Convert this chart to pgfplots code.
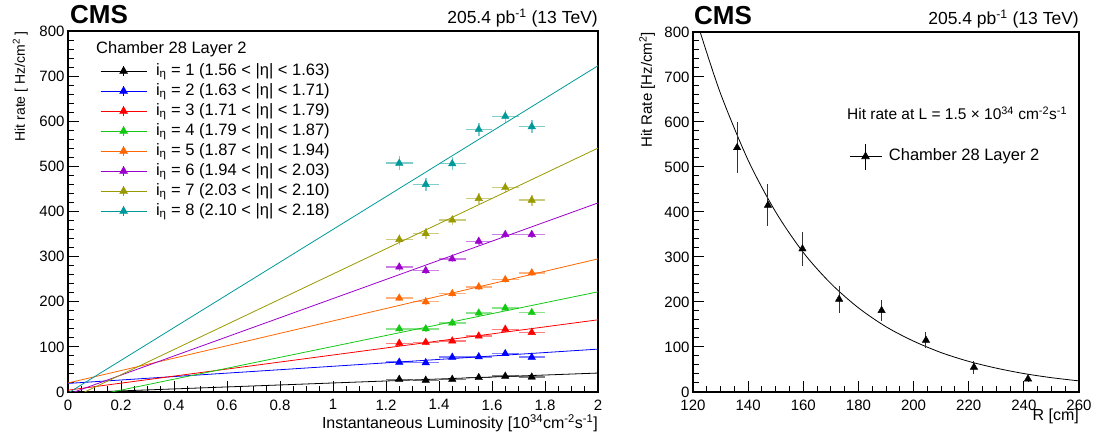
\documentclass[border=0pt]{standalone}
\usepackage{fontspec}
\setmainfont{Liberation Sans}
\usepackage{pgfplots}
\usepackage{pgfplotstable}
\pgfplotsset{compat=1.18}

\definecolor{cblue}{RGB}{0,0,255}
\definecolor{cred}{RGB}{255,0,0}
\definecolor{cgreen}{RGB}{20,200,20}
\definecolor{corange}{RGB}{255,102,0}
\definecolor{cpurple}{RGB}{155,0,205}
\definecolor{colive}{RGB}{153,153,0}
\definecolor{cteal}{RGB}{0,153,153}

\newcommand{\fs}[1]{\fontsize{#1}{#1}\selectfont}

% hit rate vs luminosity, one column per i_eta
\pgfplotstableread{
x    ex    y1 e1 y2 e2 y3  e3 y4  e4 y5  e5 y6  e6 y7  e7  y8  e8
1.25 0.05  28 3  66 4  108 5  140 6  208 7  277 8  338 12  507 15
1.35 0.05  26 3  65 4  110 5  140 6  200 7  269 8  351 12  460 15
1.45 0.05  28 3  77 4  113 5  153 6  218 7  295 8  381 12  506 15
1.55 0.05  32 3  78 4  124 5  175 6  233 7  334 8  429 12  582 15
1.65 0.05  35 3  85 4  139 5  186 6  249 7  349 8  453 12  611 15
1.75 0.05  33 3  77 4  132 5  176 6  264 7  349 8  425 12  588 15
}\lumitab

% hit rate at L = 1.5e34 vs radius
\pgfplotstableread{
r     y    ey
136.0 543  57
147.2 415  47
159.7 318  37
173.0 206  30
188.4 181  24
204.5 115  18
221.9 55   14
241.5 29   7
}\radtab

\pgfplotsset{
  rootstyle/.style={
    scale only axis,
    axis line style={line width=1.6pt},
    every tick/.style={black, line width=1pt},
    major tick length=11pt, minor tick length=5.5pt,
    tick align=inside,
    xtick pos=bottom, ytick pos=left,
    /pgf/number format/assume math mode=true,
    ticklabel style={font=\fs{15}},
    xticklabel style={yshift=-4pt},
    label style={font=\fs{15}, inner sep=0pt},
    ymin=0, ymax=800, ytick distance=100, minor y tick num=4,
    legend style={draw=none, fill=none, inner sep=0pt, font=\fs{16.5},
      row sep=4pt, column sep=9pt,
      nodes={inner sep=0pt, text height=12pt, text depth=4pt}},
    legend cell align=left,
  },
  pts/.style={only marks, mark=triangle*, mark size=4.3pt, color=#1, forget plot,
    error bars/.cd, x dir=both, x explicit, y dir=both, y explicit, error mark=none,
    error bar style={line width=1.5pt, opacity=0.5}},
  fit/.style={color=#1, line width=0.8pt, forget plot},
}

\begin{document}
\begin{tikzpicture}
\useasboundingbox (0,0) rectangle (1096pt,435pt);

\begin{axis}[rootstyle, name=L,
  at={(68pt,43pt)}, anchor=south west, width=530pt, height=361pt,
  xmin=0, xmax=2, xtick distance=0.2, minor x tick num=3,
  xlabel={Instantaneous Luminosity [10\textsuperscript{34}cm\textsuperscript{-2}s\textsuperscript{-1}]},
  ylabel={Hit rate [ Hz/cm\textsuperscript{2} ]},
  xlabel style={at={(axis description cs:1,0)}, anchor=north east, yshift=-22pt, font=\fs{16}},
  ylabel style={at={(axis description cs:-0.0755,1)}, anchor=south east, font=\fs{14}},
  legend style={at={(axis description cs:0.0604,0.9114)}, anchor=north west},
  legend image code/.code={
    \draw[#1] (0pt,0pt) -- (46pt,0pt);
    \draw[#1] (23pt,-5pt) -- (23pt,5pt);
    \draw[#1, mark=triangle*, mark size=4.3pt] plot coordinates {(23pt,0pt)};
  },
]
\addplot[fit=black]   coordinates {(0,-2) (2,42)};
\addplot[fit=cblue]   coordinates {(0,19) (2,95)};
\addplot[fit=cred]    coordinates {(0,4) (2,160)};
\addplot[fit=cgreen]  coordinates {(0,-20) (2,222)};
\addplot[fit=corange] coordinates {(0,20) (2,295)};
\addplot[fit=cpurple] coordinates {(0,-5) (2,419)};
\addplot[fit=colive]  coordinates {(0,-17.5) (2,540.5)};
\addplot[fit=cteal]   coordinates {(0,-2.4) (2,723)};

\addplot[pts=black]   table[x=x, y=y1, x error=ex, y error=e1] {\lumitab};
\addplot[pts=cblue]   table[x=x, y=y2, x error=ex, y error=e2] {\lumitab};
\addplot[pts=cred]    table[x=x, y=y3, x error=ex, y error=e3] {\lumitab};
\addplot[pts=cgreen]  table[x=x, y=y4, x error=ex, y error=e4] {\lumitab};
\addplot[pts=corange] table[x=x, y=y5, x error=ex, y error=e5] {\lumitab};
\addplot[pts=cpurple] table[x=x, y=y6, x error=ex, y error=e6] {\lumitab};
\addplot[pts=colive]  table[x=x, y=y7, x error=ex, y error=e7] {\lumitab};
\addplot[pts=cteal]   table[x=x, y=y8, x error=ex, y error=e8] {\lumitab};

\addlegendimage{black, line width=0.8pt}
\addlegendentry{i\textsubscript{η} = 1 (1.56 < |η| < 1.63)}
\addlegendimage{cblue, line width=0.8pt}
\addlegendentry{i\textsubscript{η} = 2 (1.63 < |η| < 1.71)}
\addlegendimage{cred, line width=0.8pt}
\addlegendentry{i\textsubscript{η} = 3 (1.71 < |η| < 1.79)}
\addlegendimage{cgreen, line width=0.8pt}
\addlegendentry{i\textsubscript{η} = 4 (1.79 < |η| < 1.87)}
\addlegendimage{corange, line width=0.8pt}
\addlegendentry{i\textsubscript{η} = 5 (1.87 < |η| < 1.94)}
\addlegendimage{cpurple, line width=0.8pt}
\addlegendentry{i\textsubscript{η} = 6 (1.94 < |η| < 2.03)}
\addlegendimage{colive, line width=0.8pt}
\addlegendentry{i\textsubscript{η} = 7 (2.03 < |η| < 2.10)}
\addlegendimage{cteal, line width=0.8pt}
\addlegendentry{i\textsubscript{η} = 8 (2.10 < |η| < 2.18)}

\node[anchor=west, inner sep=0pt, font=\fs{16.5}] at (axis description cs:0.0528,0.950) {Chamber 28 Layer 2};
\end{axis}

\begin{axis}[rootstyle, name=R,
  at={(693pt,43pt)}, anchor=south west, width=386pt, height=360pt,
  xmin=120, xmax=260, xtick distance=20, minor x tick num=3,
  xlabel={R [cm]},
  ylabel={Hit Rate [Hz/cm\textsuperscript{2}]},
  xlabel style={at={(axis description cs:1,0)}, anchor=north east, yshift=-17pt, font=\fs{16}},
  ylabel style={at={(axis description cs:-0.098,1)}, anchor=south east},
  legend style={at={(axis description cs:0.404,0.6917)}, anchor=north west, column sep=7pt},
  legend image code/.code={
    \draw[#1] (0pt,0pt) -- (32pt,0pt);
    \draw[#1] (16pt,-13pt) -- (16pt,13pt);
    \draw[#1, mark=triangle*, mark size=4.3pt] plot coordinates {(16pt,0pt)};
  },
]
\addplot[black, line width=0.8pt, smooth, forget plot] coordinates {
  (122.6,800) (130,663) (140,515) (150,400) (160,310) (170,241) (180,187)
  (190,145) (200,113) (210,87.5) (220,68) (230,53) (240,41) (250,31.8) (260,24.7)};
\addplot[only marks, mark=triangle*, mark size=4.3pt, black, forget plot,
  error bars/.cd, y dir=both, y explicit, error mark=none,
  error bar style={line width=1pt, black!80}]
  table[x=r, y=y, y error=ey] {\radtab};

\addlegendimage{black, line width=0.8pt}
\addlegendentry{Chamber 28 Layer 2}

\node[anchor=west, inner sep=0pt, font=\fs{15.5}] at (axis description cs:0.399,0.775)
  {Hit rate at L = 1.5 × 10\textsuperscript{34} cm\textsuperscript{-2}s\textsuperscript{-1}};
\end{axis}

\node[anchor=base west, inner sep=0pt, font=\bfseries\fs{26}] at ([xshift=2pt,yshift=7pt]L.north west) {CMS};
\node[anchor=base east, inner sep=0pt, font=\fs{17.5}] at ([yshift=7pt]L.north east) {205.4 pb\textsuperscript{-1} (13 TeV)};
\node[anchor=base west, inner sep=0pt, font=\bfseries\fs{26}] at ([xshift=1pt,yshift=7pt]R.north west) {CMS};
\node[anchor=base east, inner sep=0pt, font=\fs{17.5}] at ([yshift=7pt]R.north east) {205.4 pb\textsuperscript{-1} (13 TeV)};
\end{tikzpicture}
\end{document}
